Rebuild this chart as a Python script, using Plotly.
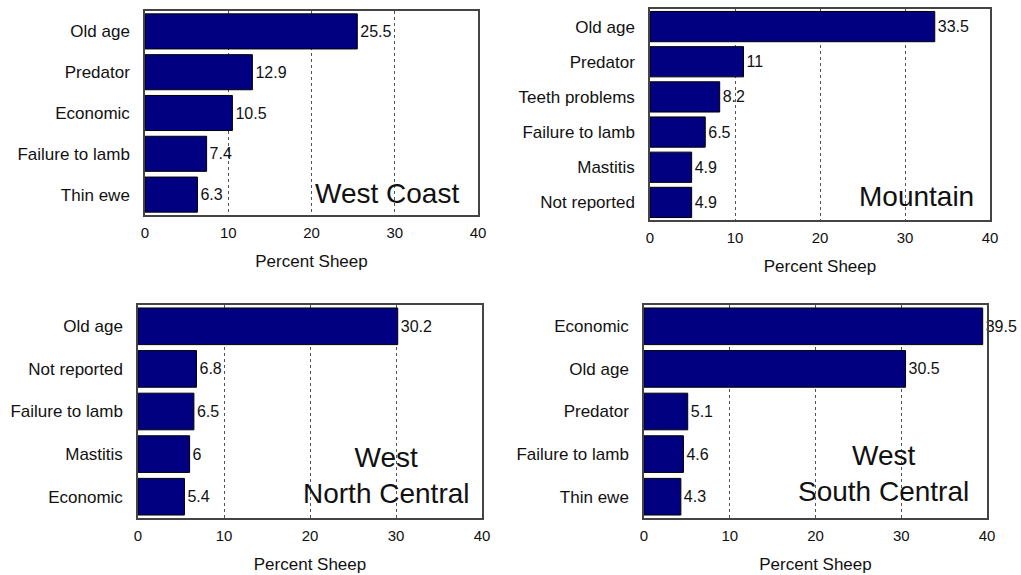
import plotly.graph_objects as go

# Data (top-to-bottom order as displayed)
wc_causes = ["Old age", "Predator", "Economic", "Failure to lamb", "Thin ewe"]
wc_values = [25.5, 12.9, 10.5, 7.4, 6.3]

mt_causes = ["Old age", "Predator", "Teeth problems", "Failure to lamb", "Mastitis", "Not reported"]
mt_values = [33.5, 11, 8.2, 6.5, 4.9, 4.9]

wnc_causes = ["Old age", "Not reported", "Failure to lamb", "Mastitis", "Economic"]
wnc_values = [30.2, 6.8, 6.5, 6, 5.4]

wsc_causes = ["Economic", "Old age", "Predator", "Failure to lamb", "Thin ewe"]
wsc_values = [39.5, 30.5, 5.1, 4.6, 4.3]

x_ticks = [0, 10, 20, 30, 40]
x_title = "Percent Sheep"

W, H = 1021, 575
FONT = "Liberation Sans, Arial, sans-serif"

panels = [
    # causes, values, region label, px box (left, right, top, bottom), label pos (x px center, y px center)
    (wc_causes, wc_values, "West Coast", (145, 478, 11, 215), (387, 193)),
    (mt_causes, mt_values, "Mountain", (650, 990, 9, 220), (916, 196)),
    (wnc_causes, wnc_values, "West<br>North Central", (138, 482, 305, 518), (386, 475)),
    (wsc_causes, wsc_values, "West<br>South Central", (644, 987, 305, 518), (883, 473)),
]

fig = go.Figure()
layout = {}
annotations = []
for i, (cats, vals, label, box, lpos) in enumerate(panels):
    n = i + 1
    sfx = "" if n == 1 else str(n)
    xa, ya = "x" + sfx, "y" + sfx
    fig.add_trace(go.Bar(
        x=vals, y=cats, orientation="h", xaxis=xa, yaxis=ya,
        marker=dict(color="#000080", line=dict(color="#000000", width=1)),
        text=[f"{v:g}" for v in vals], textposition="outside",
        textfont=dict(family=FONT, size=16, color="#111"),
        cliponaxis=False, showlegend=False, width=0.86,
        hoverinfo="skip",
    ))
    l, r, t, b = box
    layout["xaxis" + sfx] = dict(
        domain=[l / W, r / W], anchor=ya, range=[0, 40], tickvals=x_ticks,
        showgrid=True, gridcolor="#555", griddash="dot", gridwidth=1,
        showline=True, linecolor="#444", linewidth=1.5, mirror=True,
        zeroline=False, ticks="", ticklabelstandoff=3, automargin=False,
        tickfont=dict(family=FONT, size=15, color="#111"),
        title=dict(text=x_title, font=dict(family=FONT, size=17, color="#111"), standoff=15),
        fixedrange=True,
    )
    layout["yaxis" + sfx] = dict(
        domain=[1 - b / H, 1 - t / H], anchor=xa,
        range=[len(cats) - 0.5, -0.5], type="category",
        showgrid=False, showline=True, linecolor="#444", linewidth=1.5, mirror=True,
        ticks="", ticklabelstandoff=10, automargin=False,
        tickfont=dict(family=FONT, size=17, color="#111"),
        fixedrange=True,
    )
    annotations.append(dict(
        text=label, xref="paper", yref="paper", x=lpos[0] / W, y=1 - lpos[1] / H,
        xanchor="center", yanchor="middle", showarrow=False, align="center",
        font=dict(family=FONT, size=28, color="#111"),
    ))

fig.update_layout(
    **layout, annotations=annotations,
    width=W, height=H, autosize=False,
    margin=dict(l=0, r=0, t=0, b=0, autoexpand=False),
    paper_bgcolor="white", plot_bgcolor="white", bargap=0.12,
)
fig.write_html(
    "out.html",
    config={"displayModeBar": False},
    post_script="document.body.style.margin='0';document.body.style.overflow='hidden';",
)
